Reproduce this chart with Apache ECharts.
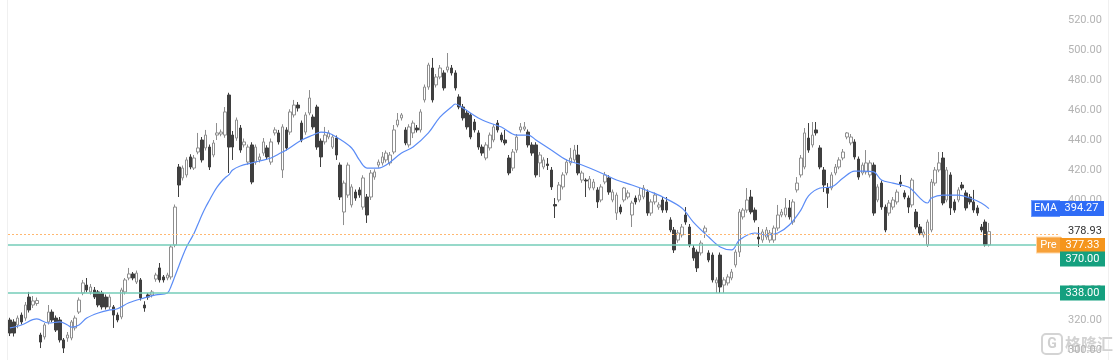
<!DOCTYPE html>
<html>
<head>
<meta charset="utf-8">
<script src="https://cdn.jsdelivr.net/npm/echarts@6/dist/echarts.min.js"></script>
<style>
html,body{margin:0;padding:0;background:#fff;}
#c{width:1117px;height:360px;}
</style>
</head>
<body>
<div id="c"></div>
<script>
// candles: [open, close, low, high]
const candles = [
/*0*/ [320,311.3,309.3,321.5],[318.7,311.3,309,320.5],[316.7,321.3,314.5,323],[323.3,318.7,317,325],[321.3,330,319.5,332],
/*5*/ [335.3,326.7,325,338.7],[330,332.7,328,336],[331,333,329.5,335],[310,305.3,301.3,311.5],[308.7,316.7,307,318],
/*10*/ [318.7,325.3,317,330],[325.3,320,318.5,327],[321.3,313.3,312,323],[320,306.7,305,322],[306.7,301.3,298,308],
/*15*/ [308,310,305.5,312],[308,318.7,306.5,320],[314.7,321.3,313,323],[325.3,333.3,324,335],[338,344.7,336.5,346.7],
/*20*/ [343.3,340,338.5,348],[338.7,342,337,344],[340,335.3,334,342],[338.7,330,328.5,340],[338,328.7,327,339.5],
/*25*/ [335.3,328.7,327,337],[328.7,335.3,327,337],[328.7,323.3,314.7,330],[323.3,320,318.5,325],[322,340,320.5,341.5],
/*30*/ [338.7,346.7,337,348],[348,350.7,346.5,354.7],[350.7,348,346.5,352],[345.3,351.3,344,353],[346.7,334.7,333,348],
/*35*/ [330,328,325.5,332.5],[336.7,335.3,333.5,338],[336.7,338.7,335,340],[347.3,350,345.5,351.5],[354.7,346.7,345,358],
/*40*/ [348.7,346.7,345,350],[348,350,346.5,351.5],[348.7,368.7,347,370],[370,395.3,368.5,397],[422,410,402,424],
/*45*/ [414.7,421.3,413,423],[416.7,426.7,415,428.5],[428.7,422,420.5,430.5],[421.3,428,420,430],[432,434.7,430.5,444.7],
/*50*/ [440,426.7,425,442],[434.7,443.3,433,446.7],[435.3,422,420,437],[430,438,428.5,440],[443.3,444.7,440,451.3],
/*55*/ [444,445.3,442.5,447],[443.3,458.7,441.5,462],[470,435.3,418,471.5],[443.3,435.3,426.7,446],[441.3,453.3,439.5,455],
/*60*/ [448,433.3,431.5,450],[436.7,438.7,435,441],[425.3,435.3,423.5,437],[436.7,412,410.5,438.5],[425.3,435.3,423.5,437],
/*65*/ [426.7,428.7,425,431],[431.3,438.7,429.5,441.3],[434.7,428.7,427,436.5],[425.3,438.7,423.5,441],[444.7,446.7,443,448.5],
/*70*/ [444.7,438.7,437,446.7],[420,448.7,414.7,450.5],[446.7,434.7,433,448.5],[445.3,458.7,443.5,460.5],[456.7,463.3,455,466.7],
/*75*/ [463.3,461.3,459,465.3],[451.3,440,438.5,453],[445.3,456.7,443.5,458.5],[458,468,456.5,473.3],[455.3,448.7,447,457],
/*80*/ [462,435.3,433.5,463.5],[439.3,428.7,422,441],[438.7,443.3,437,448.7],[442,444.7,440.5,446.5],[435.3,442,434,443.5],
/*85*/ [441.3,430,426.7,443],[423.3,402,400,425],[392,411.3,383.3,413],[403.3,423.3,401.5,425],[396.7,408.7,395,410.5],
/*90*/ [405.3,401.3,399.5,407],[406.7,403.3,401.5,408.5],[395.3,414.7,393.5,416.5],[402,390,384.7,404],[402,418,400,420],
/*95*/ [415.3,418.7,413.5,420.5],[423.3,425.3,421.5,427],[424.7,428.7,423,432],[426.7,431.3,425,433],[424.7,430,423,432],
/*100*/ [432,446.7,430.5,450],[450,453.3,448.5,458],[454.7,456.7,453,458],[446.7,438,436.5,448.5],[436.7,448.7,435,450.5],
/*105*/ [444.7,451.3,441.3,453],[448,446.7,445,450],[446.7,458.7,445,460.5],[466.7,475.3,465,477],[475.3,490,473.5,491.5],
/*110*/ [488,466.7,465,494.7],[476.7,482,475,484],[482,488,480.5,490],[484.7,474.7,473,486.5],[486.7,488.7,485,498],
/*115*/ [488,484.7,483,490],[484.7,474.7,473,486.5],[468.7,462,460.5,470.5],[462,454.7,453,464],[458,448.7,447,460],
/*120*/ [456.7,442,440.5,458],[452,446.7,445,454],[444.7,435.3,433.5,446.5],[435.3,431.3,429.5,437],[428,436.7,426.5,438.5],
/*125*/ [434.7,443.3,433,445],[440,448.7,438.5,450.5],[451.3,446.7,445,453.3],[443.3,440,438.5,445],[440,438,436.5,446.7],
/*130*/ [428,418,416.5,430],[421.3,432,419.5,434],[433.3,442,431.5,444],[446.7,448.7,445,451.3],[447.3,448.7,446,452],
/*135*/ [445.3,436.7,435,447],[436.7,431.3,429.5,438.5],[436.7,416.7,415,438.5],[424.7,430,415.3,432],[422,426.7,420.5,428.5],
/*140*/ [424,423,420,428],[420,408.7,406.7,422],[397,396,388,401.3],[400,410,398.5,412],[408.7,416.7,407,418.5],
/*145*/ [418,425.3,416.5,427],[424.7,428,423,434.7],[426.7,433.3,425,436.7],[430,418,416.5,436.7],[413.3,418,411.5,419.5],
/*150*/ [413.3,412.7,402,414.5],[408,414,406.5,416],[408,412,406.5,414],[406.7,398.7,394.7,408.5],[400,408.7,398.5,410.5],
/*155*/ [412,416.7,410.5,418.7],[414.7,405.3,403.5,416.5],[400,405.3,398.5,407],[391.3,403.3,386.7,405],[395.3,392,390.5,397],
/*160*/ [400,408,398.5,408.7],[402,404.7,400.5,406.5],[390,398,382,399.5],[401.3,398.7,397,403],[400,403.3,398.5,408],
/*165*/ [402,408,400.5,410],[405.3,391.3,389.5,407],[391.3,398.7,389.5,400.5],[398.7,403.3,397,405],[395.3,396.7,393.5,398.5],
/*170*/ [400,393.3,391.5,402],[398.7,393.3,391.5,402],[386.7,380,378.5,388.5],[380,366.7,364.7,382],[373.3,378,371.5,380],
/*175*/ [376.7,382,375,384],[390,385.3,383.5,395.3],[382,370,368.5,384],[368,361.3,359.5,370],[365.3,354.7,352,367],
/*180*/ [364.7,371.3,363,373],[378.7,381.3,374.7,383],[364.7,360,358.5,366.5],[363.3,346.7,345,365],[344.7,346.7,338,348.5],
/*185*/ [363.3,342,338,365],[343.3,346.7,338,348.5],[344.7,348.7,343,350.5],[348,352,346.5,354],[356.7,365.3,355,367],
/*190*/ [365.3,392,362,394],[388.7,393.3,387,394.7],[393.3,400,391.5,408],[402,392,390.5,406.7],[393.3,386.7,385,395],
/*195*/ [375.3,374,368.7,382],[373.3,378.7,371.5,380.5],[375.3,380,373.5,382],[373.3,378,371.5,380],[373.3,381.3,371.5,383],
/*200*/ [381.3,390,379.5,396.7],[390,392,388.5,394],[390,394.7,388.5,401.3],[394.7,388.7,387,400],[385.3,398.7,383.5,400.5],
/*205*/ [406.7,411.3,405,415.3],[416.7,428,415,430],[422,444.7,420.5,448],[441.3,433.3,431.5,451.3],[436.7,443.3,435,452],
/*210*/ [446.7,444.7,443,452],[434.7,422,420.5,436.5],[420,410,405.3,422],[408,404.5,394.7,411.3],[408,416.7,406.5,418.5],
/*215*/ [418,422,416.5,424],[422,426.7,420.5,428.5],[428,432,426.5,434],[442,444.7,440.5,445.3],[438,442,436.5,444],
/*220*/ [438.7,428.7,427,440.5],[427.3,415.3,413.5,429],[418,423.3,416.5,425],[418.7,424.7,417,433.3],[416.7,424.7,415,426.5],
/*225*/ [423.3,391.3,389.5,425],[400,408.7,398.5,410.5],[411.3,395.3,393.5,413],[395.3,380,378.5,397],[391.3,398,389.5,400],
/*230*/ [395.3,400,393.5,402],[398.7,405.3,397,407],[412,410.7,408.7,416.7],[404.7,402,400.5,406.5],[401.3,395.3,391.3,403],
/*235*/ [396.7,413.3,395,414.7],[392,382,380.5,394],[382,378,376.5,384],[376.7,378.7,375,380.5],[370,385.3,368.7,387],
/*240*/ [380,412,378.5,414],[411.3,420,409.5,422],[420,424.7,418.5,432],[428,398,396.5,432],[400,420,398.5,422],
/*245*/ [416.7,394.7,390,418.5],[398.7,393.3,391.5,400.5],[400,406.7,398.5,408.5],[410,408,406.5,412],[404.7,394.7,393,406.5],
/*250*/ [402,398.7,397,404],[398.7,393.3,391.5,406.7],[394.7,391.3,389.5,396.5],[382,380,378.5,384],[385.3,370,369,387],
/*255*/ [370,378.93,369,384.7]
];

// EMA curve: [candle index, value]
const emaPoints = [
[0,314.7],[3,316.7],[7,320.7],[10,318],[13,318.7],[15,316.7],[16,315.3],[18,316.7],[20,321.3],[23,324.7],
[26,326.7],[28,327.5],[31,331.5],[35,334.7],[38,336.7],[41,338],[42,342.7],[43,349.3],[44,356],[45,362.7],
[46,368.7],[47,373.3],[48,378],[49,384],[50,390],[51,395.3],[52,400],[53,404.7],[54,408.7],[55,412],
[56,414.7],[57,416.7],[58,420],[60,422.7],[63,424.7],[65,426],[68,428],[70,430.7],[72,433.3],[76,440],
[79,443.3],[81,445.3],[83,444.7],[85,442],[89,434.7],[91,426.7],[93,421.3],[96,421.3],[98,423.3],[102,431.3],
[105,435.3],[109,444.7],[112,455.3],[115,462],[116,464],[118,461.3],[122,454.7],[125,451.3],[128,448.7],[132,443.3],
[135,443.3],[137,440],[141,433.3],[145,426.7],[149,423.3],[154,418],[158,413.3],[162,410],[167,405.3],[170,402],
[175,394.7],[178,385.3],[182,375.3],[185,368.7],[188,366.7],[190,373.3],[194,378],[197,376.7],[200,378],[203,383.3],
[206,393.3],[208,402.7],[211,408],[214,408.7],[217,414.7],[220,419.3],[222,419.3],[225,418.7],[227,413.3],[230,411.3],
[234,408.7],[235,406.7],[239,398],[240,401.3],[243,403.3],[247,403.3],[250,401.3],[253,398],[255,394.27]
];

const emaLast = 394.27;
const prevClose = 377.33;
const lastPrice = 378.93;
const supportLevels = [370.00, 338.00];
const slotCount = 274;
const categories = Array.from({length: slotCount}, (_, i) => 'D' + (i + 1));
const yMin = 280, yMax = 540, yStep = 20;

const FONT = 'Roboto, "Helvetica Neue", Arial, sans-serif';
const chart = echarts.init(document.getElementById('c'), null, {renderer: 'canvas'});

const boxStyle = (bg, w) => ({
  backgroundColor: bg, color: '#ffffff', fontSize: 11, fontFamily: FONT,
  padding: [2, 5, 2, 5], lineHeight: 12, width: w, align: 'center'
});
const HIDDEN = {color: 'rgba(0,0,0,0)', width: 0.01};

const markData = [
  {
    yAxis: prevClose,
    lineStyle: {color: '#ffb871', type: [2, 2], width: 1},
    label: {
      show: true, position: 'end', distance: 0, offset: [-23, 11],
      formatter: '{a|Pre}{b|' + prevClose.toFixed(2) + '}',
      rich: {a: Object.assign(boxStyle('#f7a13a', 13), {borderColor: '#ffd7a8', borderWidth: 1}), b: boxStyle('#f5951c', 35)}
    }
  },
  {
    yAxis: lastPrice,
    lineStyle: HIDDEN,
    label: {
      show: true, position: 'end', distance: 0, offset: [2, 0],
      formatter: lastPrice.toFixed(2),
      color: '#333333', fontSize: 11, fontFamily: FONT, backgroundColor: '#ffffff', padding: [1, 6, 1, 6]
    }
  },
  {
    yAxis: emaLast,
    lineStyle: HIDDEN,
    label: {
      show: true, position: 'end', distance: 0, offset: [-28, 0],
      formatter: '{a|EMA}{b|' + emaLast.toFixed(2) + '}',
      rich: {a: Object.assign(boxStyle('#2f6cf6', 17), {borderColor: '#6f9bff', borderWidth: 1}), b: boxStyle('#2f6cf6', 35)}
    }
  }
].concat(supportLevels.map((v, i) => ({
  yAxis: v,
  lineStyle: {color: '#74cdb8', type: 'solid', width: 1.5},
  label: {
    show: true, position: 'end', distance: 0, offset: [0, i === 0 ? 14 : 0],
    formatter: '{b|' + v.toFixed(2) + '}',
    rich: {b: boxStyle('#15a07f', 35)}
  }
})));

const option = {
  animation: false,
  backgroundColor: '#ffffff',
  grid: {left: 8, right: 57, top: -10, bottom: -20, containLabel: false, outerBoundsMode: 'none'},
  xAxis: {
    type: 'category', data: categories, boundaryGap: true, show: false
  },
  yAxis: {
    type: 'value', position: 'right', min: yMin, max: yMax, interval: yStep,
    axisLine: {show: false}, axisTick: {show: false}, splitLine: {show: false},
    axisLabel: {color: '#b3b3b3', fontSize: 11, fontFamily: FONT, margin: 8, formatter: v => v.toFixed(2)}
  },
  series: [
    {
      type: 'candlestick', data: candles, barWidth: 3,
      itemStyle: {color: '#ffffff', color0: '#3f3f3f', borderColor: '#8e8e8e', borderColor0: '#3f3f3f', borderWidth: 1},
      markLine: {symbol: ['none', 'none'], silent: true, animation: false, data: markData}
    },
    {
      type: 'line', data: emaPoints, smooth: 0.35, symbol: 'none', z: 3,
      lineStyle: {color: '#5b8cf6', width: 1.2}
    }
  ],
  graphic: [
    {type: 'line', shape: {x1: 7.5, y1: 0, x2: 7.5, y2: 360}, style: {stroke: '#f0f0f0', lineWidth: 1}, silent: true},
    {type: 'line', shape: {x1: 1108.5, y1: 0, x2: 1108.5, y2: 360}, style: {stroke: '#f0f0f0', lineWidth: 1}, silent: true},
    {
      type: 'group', left: 1041, top: 333, z: 100, silent: true,
      children: [
        {type: 'rect', shape: {x: 0, y: 0, width: 20, height: 20, r: 4}, style: {fill: 'rgba(255,255,255,0.6)', stroke: '#d4d4d4', lineWidth: 2}},
        {type: 'text', style: {x: 10, y: 10, text: 'G', fill: '#d0d0d0', font: 'bold 14px ' + FONT, align: 'center', verticalAlign: 'middle'}},
        {type: 'text', style: {x: 23, y: 10, text: '格隆汇', fill: '#d2d2d2', stroke: '#ffffff', lineWidth: 1, font: 'bold 16px "Noto Sans CJK SC"', verticalAlign: 'middle'}}
      ]
    }
  ]
};
chart.setOption(option);
</script>
</body>
</html>
